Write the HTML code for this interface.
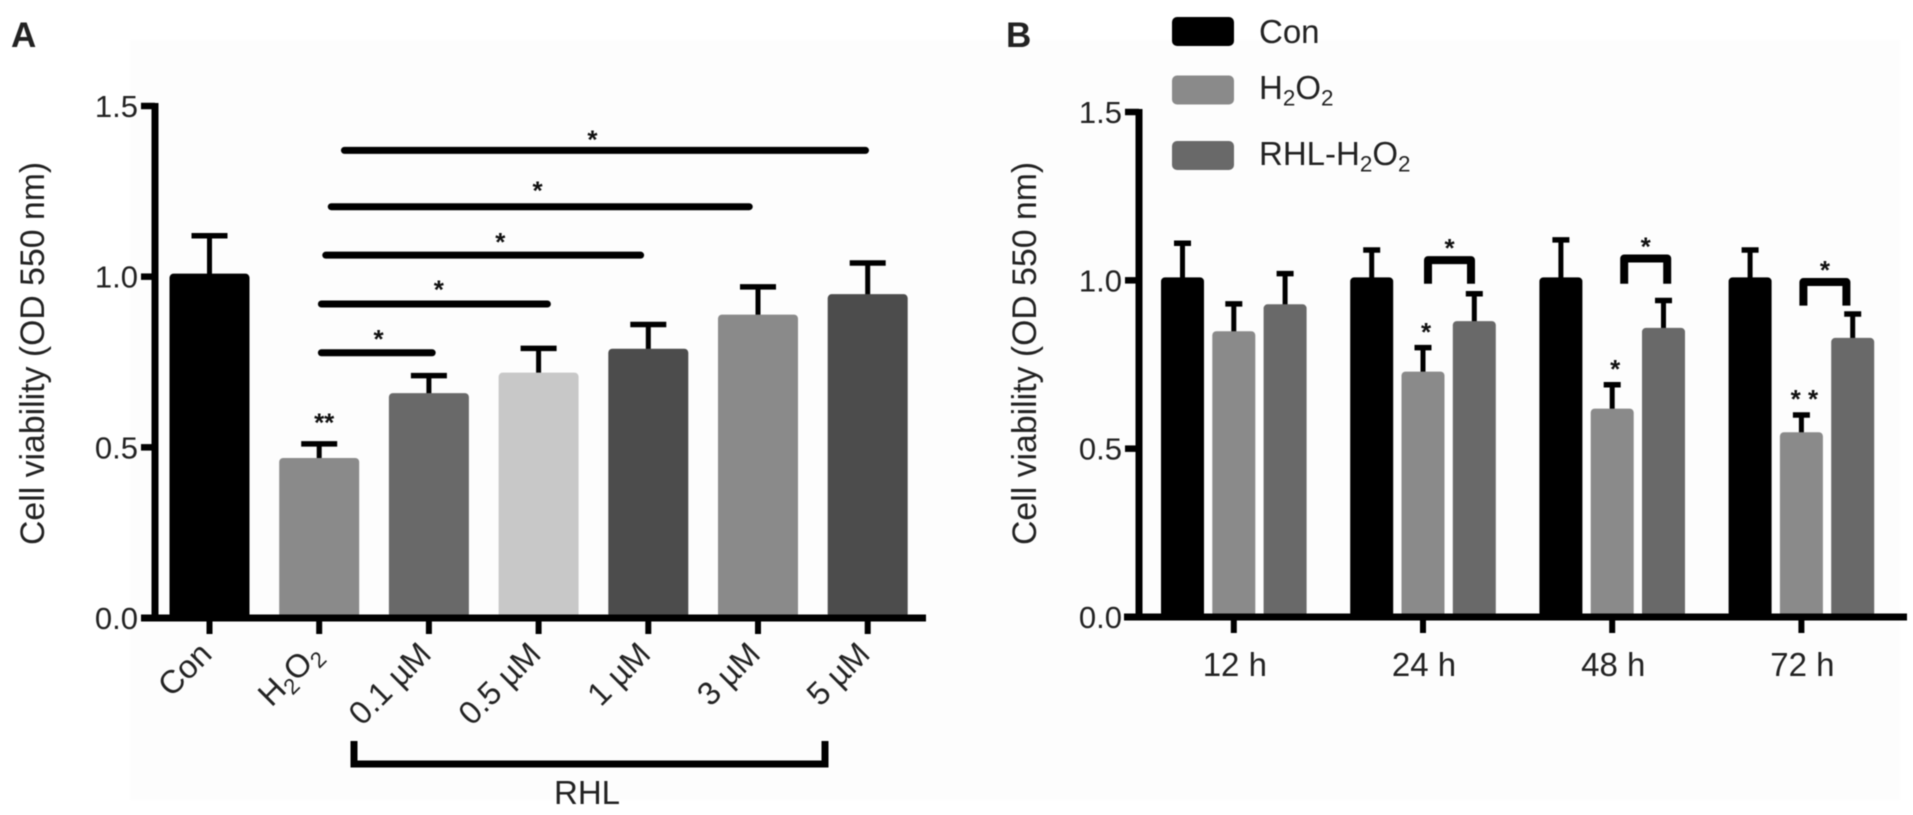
<!DOCTYPE html>
<html>
<head>
<meta charset="utf-8">
<title>Cell viability charts</title>
<style>
html,body{margin:0;padding:0;background:#fff;width:1913px;height:815px;overflow:hidden}
svg{display:block;filter:blur(.6px)}
text{font-family:"Liberation Sans",sans-serif;fill:#222}
</style>
</head>
<body>
<svg id="figure" xmlns="http://www.w3.org/2000/svg" width="1913" height="815" viewBox="0 0 1913 815">
<rect x="0" y="0" width="1913" height="815" fill="#ffffff"/>
<rect x="130" y="40" width="1770" height="760" fill="#fdfdfd"/>
<g id="panelA"></g>
<g id="panelB"></g>
</svg>
<script>
// Panel A data
var categoriesA = ['Con', 'H_2O_2', '0.1 µM', '0.5 µM', '1 µM', '3 µM', '5 µM'];
var valuesA = [1.0, 0.46, 0.65, 0.71, 0.78, 0.88, 0.94];
var errorsA = [0.12, 0.05, 0.06, 0.08, 0.08, 0.09, 0.10];
var coloursA = ['#000000', '#8a8a8a', '#696969', '#c8c8c8', '#4c4c4c', '#8a8a8a', '#4c4c4c'];
var ticksA = [0, 0.5, 1.0, 1.5];
var sigLevelsA = [1.37, 1.205, 1.063, 0.92, 0.777];
var sigFromA = [1.23, 1.11, 1.06, 1.02, 1.02];
var sigToA = [5.98, 4.92, 3.93, 3.08, 2.03];
var sigStarAtA = [3.5, 3.0, 2.66, 2.1, 1.55];
var sigStarLevelA = [1.405, 1.255, 1.105, 0.965, 0.82];

// Panel B data
var timesB = ['12 h', '24 h', '48 h', '72 h'];
var seriesNamesB = ['Con', 'H_2O_2', 'RHL-H_2O_2'];
var conB = [1.0, 1.0, 1.0, 1.0];
var h2o2B = [0.84, 0.72, 0.61, 0.54];
var rhlB = [0.92, 0.87, 0.85, 0.82];
var conErrB = [0.11, 0.09, 0.12, 0.09];
var h2o2ErrB = [0.09, 0.08, 0.08, 0.06];
var rhlErrB = [0.10, 0.09, 0.09, 0.08];
var coloursB = ['#000000', '#8a8a8a', '#696969'];
var ticksB = [0, 0.5, 1.0, 1.5];
var h2o2StarsB = ['', '*', '*', '* *'];
var bracketTopB = [null, 1.06, 1.065, 0.995];
var bracketDropB = [null, 0.07, 0.075, 0.07];

var SVGNS = 'http://www.w3.org/2000/svg';
var panelA = document.getElementById('panelA');
var panelB = document.getElementById('panelB');
var TOP_PAD = 3;
var bracketOffsetB = [0, 5, 12, 2];

function xA(i) { return 209.5 + i * 109.7; }
function yA(v) { return 618 - v * (618 - 106) / 1.5; }
function yB(v) { return 617 - v * (617 - 112) / 1.5; }
function barCentre(g, s) { return 1182.5 + g * 189.2 + s * 51.3; }

function shape(parent, tag, attrs) {
  var el = document.createElementNS(SVGNS, tag);
  for (var k in attrs) { el.setAttribute(k, attrs[k]); }
  parent.appendChild(el);
  return el;
}

function rich(el, str, size) {
  var parts = str.split('_2');
  parts.forEach(function (p, i) {
    if (i > 0) {
      var sub = document.createElementNS(SVGNS, 'tspan');
      sub.setAttribute('font-size', size * 0.68);
      sub.setAttribute('dy', size * 0.2);
      sub.textContent = '2';
      el.appendChild(sub);
    }
    var t = document.createElementNS(SVGNS, 'tspan');
    if (i > 0) { t.setAttribute('dy', -size * 0.2); }
    t.textContent = p;
    el.appendChild(t);
  });
}

function label(parent, str, x, y, size, anchor, rotate, weight) {
  var el = document.createElementNS(SVGNS, 'text');
  var tr = 'translate(' + x + ' ' + y + ')';
  if (rotate) { tr += ' rotate(' + rotate + ')'; }
  el.setAttribute('transform', tr);
  el.setAttribute('font-size', size);
  el.setAttribute('text-anchor', anchor || 'start');
  if (weight) { el.setAttribute('font-weight', weight); }
  rich(el, str, size);
  parent.appendChild(el);
  return el;
}

function errorBar(parent, name, x, yBase, yTop, capW, lw) {
  var g = shape(parent, 'g', {});
  
  
  shape(g, 'line', { x1: x, x2: x, y1: yBase, y2: yTop, stroke: '#000', 'stroke-width': lw });
  shape(g, 'line', { x1: x - capW / 2, x2: x + capW / 2, y1: yTop, y2: yTop, stroke: '#000', 'stroke-width': 5.5 });
}

function axes(parent, prefix, axisX, x0, x1, yFn, ticks, tickLen) {
  var yAxis = shape(parent, 'line', { x1: axisX, x2: axisX, y1: yFn(ticks[ticks.length - 1]) - 3, y2: yFn(0) + 3, stroke: '#000', 'stroke-width': 7 });
  
  
  var xAxis = shape(parent, 'line', { x1: x0, x2: x1, y1: yFn(0), y2: yFn(0), stroke: '#000', 'stroke-width': 7 });
  
  
  ticks.forEach(function (t) {
    var tk = shape(parent, 'line', { x1: axisX - tickLen, x2: axisX, y1: yFn(t), y2: yFn(t), stroke: '#000', 'stroke-width': 6.5 });
    
    
    var lb = label(parent, t.toFixed(1), axisX - tickLen - 3, yFn(t) + 11, 31, 'end');
    
    
  });
}

function star(parent, name, str, x, y) {
  var el = document.createElementNS(SVGNS, 'text');
  el.setAttribute('x', x);
  el.setAttribute('y', y);
  el.setAttribute('font-size', 26);
  el.setAttribute('font-weight', 'bold');
  el.setAttribute('text-anchor', 'middle');
  el.setAttribute('style', 'fill:#111');
  el.textContent = str;
  
  
  parent.appendChild(el);
}

// ---------- Panel A ----------
valuesA.forEach(function (v, i) {
  errorBar(panelA, 'error-bar-a-' + i, xA(i), yA(v), yA(v + errorsA[i]), 36, 5);
  var bar = shape(panelA, 'rect', { x: xA(i) - 40, y: yA(v) - TOP_PAD, width: 80, height: yA(0) - yA(v) + TOP_PAD, rx: 4, fill: coloursA[i] });
  
  
});
axes(panelA, 'panel-a', 155, 141, 926, yA, ticksA, 14);
categoriesA.forEach(function (c, i) {
  var tk = shape(panelA, 'line', { x1: xA(i), x2: xA(i), y1: yA(0), y2: yA(0) + 16, stroke: '#000', 'stroke-width': 6 });
  
  
  var lb = label(panelA, c, xA(i) + 4, yA(0) + 38, 32.5, 'end', -45);
  
  
});
sigLevelsA.forEach(function (lv, i) {
  var ln = shape(panelA, 'line', { x1: xA(sigFromA[i]), x2: xA(sigToA[i]), y1: yA(lv), y2: yA(lv), stroke: '#000', 'stroke-width': 7, 'stroke-linecap': 'round' });
  
  
  star(panelA, 'significance-star-' + i, '*', xA(sigStarAtA[i]) - 1, yA(sigStarLevelA[i]) + 10);
});
star(panelA, 'h2o2-significance-stars', '**', xA(1) + 5, yA(0.57) + 8);
var titleA = label(panelA, 'Cell viability (OD 550 nm)', 0, 0, 33.8, 'start', 0);
titleA.setAttribute('transform', 'translate(44 545) rotate(-90)');


var brk = shape(panelA, 'path', { d: 'M354 741 V764 H825 V741', fill: 'none', stroke: '#000', 'stroke-width': 7 });


var rhlText = label(panelA, 'RHL', 587, 804, 33, 'middle');


var letterA = label(panelA, 'A', 11, 47, 35, 'start', 0, 'bold');



// ---------- Panel B ----------
var seriesB = [conB, h2o2B, rhlB];
var errsB = [conErrB, h2o2ErrB, rhlErrB];
seriesB.forEach(function (vals, s) {
  vals.forEach(function (v, g) {
    var x = barCentre(g, s);
    errorBar(panelB, 'error-bar-b-' + s + '-' + g, x, yB(v), yB(v + errsB[s][g]), 17, 5);
    var bar = shape(panelB, 'rect', { x: x - 21.5, y: yB(v) - TOP_PAD, width: 43, height: yB(0) - yB(v) + TOP_PAD, rx: 4, fill: coloursB[s] });
    
    
  });
});
axes(panelB, 'panel-b', 1139, 1124, 1907, yB, ticksB, 14);
timesB.forEach(function (t, g) {
  var x = barCentre(g, 1);
  var tk = shape(panelB, 'line', { x1: x, x2: x, y1: yB(0), y2: yB(0) + 16, stroke: '#000', 'stroke-width': 6 });
  
  
  var lb = label(panelB, t, x + 1, 676, 33, 'middle');
  
  
  if (h2o2StarsB[g]) {
    star(panelB, 'h2o2-star-' + g, h2o2StarsB[g], x + 3, yB(h2o2B[g] + h2o2ErrB[g] + 0.05) + 10);
  }
  if (bracketTopB[g] !== null) {
    var xl = x + bracketOffsetB[g];
    var xr = xl + 43;
    var top = yB(bracketTopB[g]);
    var bot = yB(bracketTopB[g] - bracketDropB[g]);
    var b = shape(panelB, 'path', { d: 'M' + xl + ' ' + bot + ' V' + top + ' H' + xr + ' V' + bot, fill: 'none', stroke: '#000', 'stroke-width': 8, 'stroke-linejoin': 'round' });
    
    
    star(panelB, 'bracket-star-' + g, '*', (xl + xr) / 2, top - 3);
  }
});
var titleB = label(panelB, 'Cell viability (OD 550 nm)', 0, 0, 33.8, 'start', 0);
titleB.setAttribute('transform', 'translate(1036 545) rotate(-90)');


var letterB = label(panelB, 'B', 1006, 47, 35, 'start', 0, 'bold');



var legendSwatchTop = [17, 75.5, 141];
var legendBaseline = [43, 99, 165];
seriesNamesB.forEach(function (n, s) {
  var sw = shape(panelB, 'rect', { x: 1172, y: legendSwatchTop[s], width: 62, height: 29, rx: 5, fill: coloursB[s] });
  
  
  var lb = label(panelB, n, 1259, legendBaseline[s], 33, 'start');
  
  
});
</script>
</body>
</html>
